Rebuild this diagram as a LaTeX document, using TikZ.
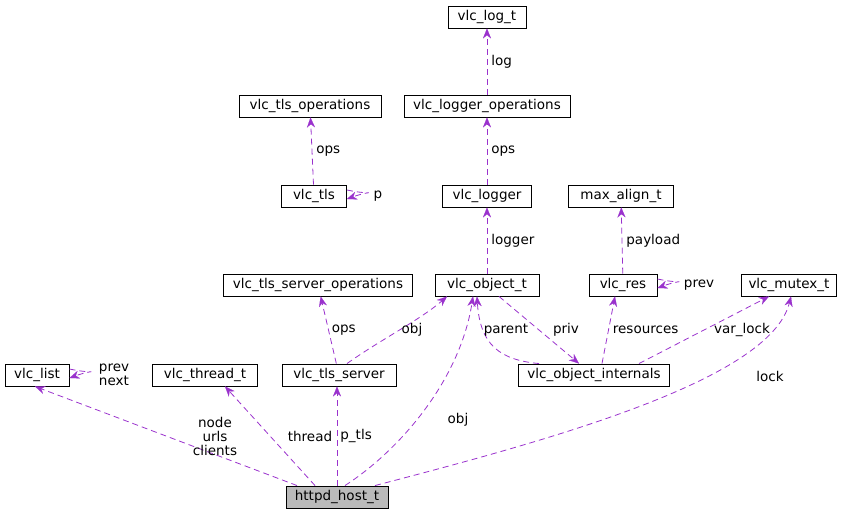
\documentclass[tikz,border=0pt]{standalone}
\usepackage{fontspec}
\setmainfont{DejaVu Sans}
\usetikzlibrary{arrows.meta}
\definecolor{edge}{HTML}{9A32CD}
\begin{document}
\begin{tikzpicture}[x=1pt,y=-1pt,
  box/.style={draw=black,fill=white,inner sep=0pt,minimum height=22pt,line width=0.9pt,font=\fontsize{13.5}{15}\selectfont},
  lab/.style={font=\fontsize{13.5}{14}\selectfont,align=center,inner sep=1pt},
  e/.style={draw=edge,line width=0.8pt,dash pattern=on 6pt off 4pt,-{Stealth[length=10pt,width=8pt,fill=edge,line width=0.1pt]}}]
\useasboundingbox (0,0) rectangle (852,516);
\node[box,minimum width=78pt] (log) at (487,17) {vlc\_log\_t};
\node[box,minimum width=142pt] (tlsops) at (310,106) {vlc\_tls\_operations};
\node[box,minimum width=166pt] (logops) at (487,106) {vlc\_logger\_operations};
\node[box,minimum width=65pt] (tls) at (314,196) {vlc\_tls};
\node[box,minimum width=89pt] (logger) at (487,196) {vlc\_logger};
\node[box,minimum width=105pt] (maxal) at (621,196) {max\_align\_t};
\node[box,minimum width=189pt] (srvops) at (318,285) {vlc\_tls\_server\_operations};
\node[box,minimum width=104pt] (obj) at (487,285) {vlc\_object\_t};
\node[box,minimum width=68pt] (res) at (623,285) {vlc\_res};
\node[box,minimum width=95pt] (mutex) at (789,285) {vlc\_mutex\_t};
\node[box,minimum width=64pt] (list) at (37,375) {vlc\_list};
\node[box,minimum width=105pt] (thread) at (205,375) {vlc\_thread\_t};
\node[box,minimum width=114pt] (srv) at (339,375) {vlc\_tls\_server};
\node[box,minimum width=151pt] (intern) at (594,375) {vlc\_object\_internals};
\node[box,minimum width=102pt,fill=black!27] (host) at (337,497) {httpd\_host\_t};

\draw[e] (logops) -- (log) node[lab,midway,right=3pt] {log};
\draw[e] (tls) -- (tlsops) node[lab,midway,right=3pt] {ops};
\draw[e] (logger) -- (logops) node[lab,midway,right=3pt] {ops};
\draw[e] ([yshift=6pt]tls.east) .. controls +(28,6) and +(28,-10) .. ([yshift=-3pt]tls.east);
\node[lab] at (378,196) {p};
\draw[e] (obj) -- (logger) node[lab,midway,right=3pt] {logger};
\draw[e] (res) -- (maxal) node[lab,midway,right=3pt] {payload};
\draw[e] (srv) -- (srvops) node[lab,midway,right=2pt] {ops};
\draw[e] ([xshift=8pt]srv.north) .. controls (380,340) and (420,320) .. ([xshift=-40pt]obj.south);
\node[lab] at (412,330) {obj};
\draw[e] ([xshift=-55pt]intern.north) .. controls (500,360) and (480,345) .. ([xshift=-10pt]obj.south);
\node[lab] at (506,330) {parent};
\draw[e] ([xshift=12pt]obj.south) -- ([xshift=-15pt]intern.north) ;
\node[lab] at (566,330) {priv};
\draw[e] ([xshift=8pt]intern.north) -- ([xshift=-8pt]res.south) node[lab,midway,right=3pt] {resources};
\draw[e] ([xshift=45pt]intern.north) -- ([xshift=-20pt]mutex.south);
\node[lab] at (742,330) {var\_lock};
\draw[e] ([yshift=6pt]res.east) .. controls +(28,6) and +(28,-10) .. ([yshift=-3pt]res.east);
\node[lab] at (699,285) {prev};
\draw[e] ([yshift=6pt]list.east) .. controls +(28,6) and +(28,-10) .. ([yshift=-3pt]list.east);
\node[lab,align=left] at (114,375) {prev\\next};
\draw[e] ([xshift=-40pt]host.north) -- ([xshift=-2pt]list.south);
\node[lab] at (215,436) {node\\urls\\clients};
\draw[e] ([xshift=-22pt]host.north) -- ([xshift=20pt]thread.south);
\node[lab] at (310,436) {thread};
\draw[e] ([xshift=0pt]host.north) -- ([xshift=-2pt]srv.south) node[lab,midway,right=2pt] {p\_tls};
\draw[e] ([xshift=8pt]host.north) .. controls (400,450) and (460,380) .. ([xshift=-14pt]obj.south);
\node[lab] at (458,420) {obj};
\draw[e] ([xshift=38pt]host.north) .. controls (550,440) and (770,380) .. ([xshift=2pt]mutex.south);
\node[lab] at (770,376) {lock};
\end{tikzpicture}
\end{document}
